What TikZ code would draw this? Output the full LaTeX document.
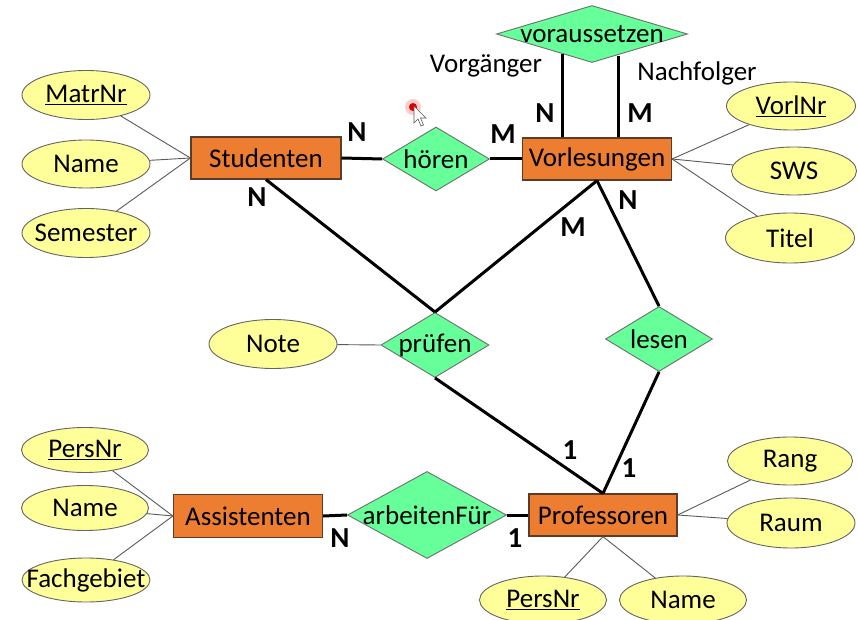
\documentclass[tikz,border=0pt]{standalone}
\usepackage{fontspec}
\setmainfont{Carlito}
\usetikzlibrary{shapes.geometric}
\definecolor{entfill}{RGB}{237,125,49}
\definecolor{entborder}{RGB}{90,60,40}
\definecolor{relfill}{RGB}{102,255,153}
\definecolor{relborder}{RGB}{110,110,110}
\definecolor{attfill}{RGB}{255,255,153}
\definecolor{attborder}{RGB}{100,100,100}
\definecolor{thinline}{RGB}{90,90,90}
\newcommand{\fsz}{\fontsize{27}{32}\selectfont}
\newcommand{\fcard}{\fontsize{29}{34}\selectfont}
\begin{document}
\begin{tikzpicture}[x=1pt,y=-1pt,
  ent/.style={rectangle, draw=entborder, fill=entfill, line width=1.2pt, minimum width=150pt, minimum height=42pt, inner sep=0pt, font=\fsz},
  rel/.style={diamond, draw=relborder, fill=relfill, line width=0.9pt, inner sep=0pt, font=\fsz},
  att/.style={ellipse, draw=attborder, fill=attfill, line width=0.9pt, minimum width=128pt, minimum height=49pt, inner sep=0pt, font=\fsz},
  card/.style={font=\bfseries\fcard, inner sep=0pt},
  role/.style={font=\fsz, inner sep=0pt},
  heavy/.style={line width=3pt, black},
  thinl/.style={line width=0.9pt, thinline}]
\useasboundingbox (0,0) rectangle (857,620);
\fill[white] (0,0) rectangle (857,620);

% attributes
\node[att] (matr) at (86,95) {\makebox[0pt]{\underline{MatrNr}}};
\node[att, minimum height=48pt] (sname) at (86,164) {\makebox[0pt]{Name}};
\node[att] (sem) at (86,233) {\makebox[0pt]{Semester}};
\node[att, minimum width=129pt, minimum height=48pt] (vnr) at (791,106) {\makebox[0pt]{\underline{VorlNr}}};
\node[att, minimum width=125pt, minimum height=48pt] (sws) at (794,171) {\makebox[0pt]{SWS}};
\node[att, minimum width=129pt, minimum height=50pt] (titel) at (790,238) {\makebox[0pt]{Titel}};
\node[att] (note) at (273,344) {\makebox[0pt]{Note}};
\node[att, minimum width=127pt, minimum height=45pt] (apers) at (85,450) {\makebox[0pt]{\underline{PersNr}}};
\node[att, minimum width=127pt, minimum height=45pt] (aname) at (85,508) {\makebox[0pt]{Name}};
\node[att, minimum height=44pt] (fach) at (86,580) {\makebox[0pt]{Fachgebiet}};
\node[att, minimum width=125pt, minimum height=48pt] (rang) at (790,461) {\makebox[0pt]{Rang}};
\node[att, minimum height=50pt] (raum) at (791,523) {\makebox[0pt]{Raum}};
\node[att, minimum width=127pt, minimum height=48pt] (ppers) at (543,600) {\makebox[0pt]{\underline{PersNr}}};
\node[att, minimum width=127pt, minimum height=48pt] (pname) at (683,600) {\makebox[0pt]{Name}};

% entities
\node[ent] (stud) at (266,158) {Studenten};
\node[ent, minimum width=149pt] (vorl) at (597,159) {Vorlesungen};
\node[ent, minimum width=149pt, minimum height=43pt] (assi) at (248,516) {Assistenten};
\node[ent, minimum width=148pt] (prof) at (603,515) {Professoren};

% relationships
\node[rel, minimum width=107pt, minimum height=64pt] (hoeren) at (436,159) {\makebox[0pt]{hören}};
\node[rel, minimum width=191pt, minimum height=57pt] (vor) at (592,34) {\makebox[0pt]{voraussetzen}};
\node[rel, minimum width=108pt, minimum height=65pt] (pruefen) at (435,345) {\makebox[0pt]{prüfen}};
\node[rel, minimum width=107pt, minimum height=65pt] (lesen) at (659,339) {\makebox[0pt]{lesen}};
\node[rel, minimum width=159pt, minimum height=87pt] (arb) at (427,515) {\makebox[0pt]{arbeitenFür}};

% thin connectors
\draw[thinl] (matr) -- (stud.west);
\draw[thinl] (sname) -- (stud.west);
\draw[thinl] (sem) -- (stud.west);
\draw[thinl] (vnr) -- (vorl.east);
\draw[thinl] (sws) -- (vorl.east);
\draw[thinl] (titel) -- (vorl.east);
\draw[thinl] (note) -- (pruefen.west);
\draw[thinl] (apers) -- (assi.west);
\draw[thinl] (aname) -- (assi.west);
\draw[thinl] (fach) -- (assi.west);
\draw[thinl] (rang) -- (prof.east);
\draw[thinl] (raum) -- (prof.east);
\draw[thinl] (ppers) -- (prof.south);
\draw[thinl] (pname) -- (prof.south);

% heavy connectors
\draw[heavy] (stud.east) -- (hoeren.west);
\draw[heavy] (hoeren.east) -- (vorl.west);
\coordinate (vL) at (562,54);
\coordinate (vR) at (618,56);
\draw[heavy] (vL) -- (vL |- vorl.north);
\draw[heavy] (vR) -- (vR |- vorl.north);
\draw[heavy] (stud.south) -- (pruefen.north);
\draw[heavy] (vorl.south) -- (pruefen.north);
\draw[heavy] (vorl.south) -- (lesen.north);
\draw[heavy] (pruefen.south) -- (prof.north);
\draw[heavy] (lesen.south) -- (prof.north);
\draw[heavy] (assi.east) -- (arb.west);
\draw[heavy] (arb.east) -- (prof.west);

% cardinalities and roles
\node[card] (c1) at (357,132) {N};
\node[card] (c2) at (503,134) {M};
\node[card] (c3) at (257,197) {N};
\node[card] (c4) at (545,113) {N};
\node[card] (c5) at (640,113) {M};
\node[card] (c6) at (628,200) {N};
\node[card] (c7) at (573,227) {M};
\node[card] (c8) at (570,450) {1};
\node[card] (c9) at (629,468) {1};
\node[card] (c10) at (340,538) {N};
\node[card] (c11) at (515,538) {1};
\node[role] (r1) at (486,66) {Vorgänger};
\node[role] (r2) at (697,73) {Nachfolger};

% mouse pointer
\fill[red!40, opacity=0.5] (413,107) circle (8);
\fill[red!85!black] (413,107) circle (4);
\draw[gray!70!black, fill=white, line width=0.6pt]
  (414,106) -- (414,123) -- (418,119) -- (421,126) -- (423.5,125) -- (420.5,118) -- (426,118) -- cycle;
\end{tikzpicture}
\end{document}
